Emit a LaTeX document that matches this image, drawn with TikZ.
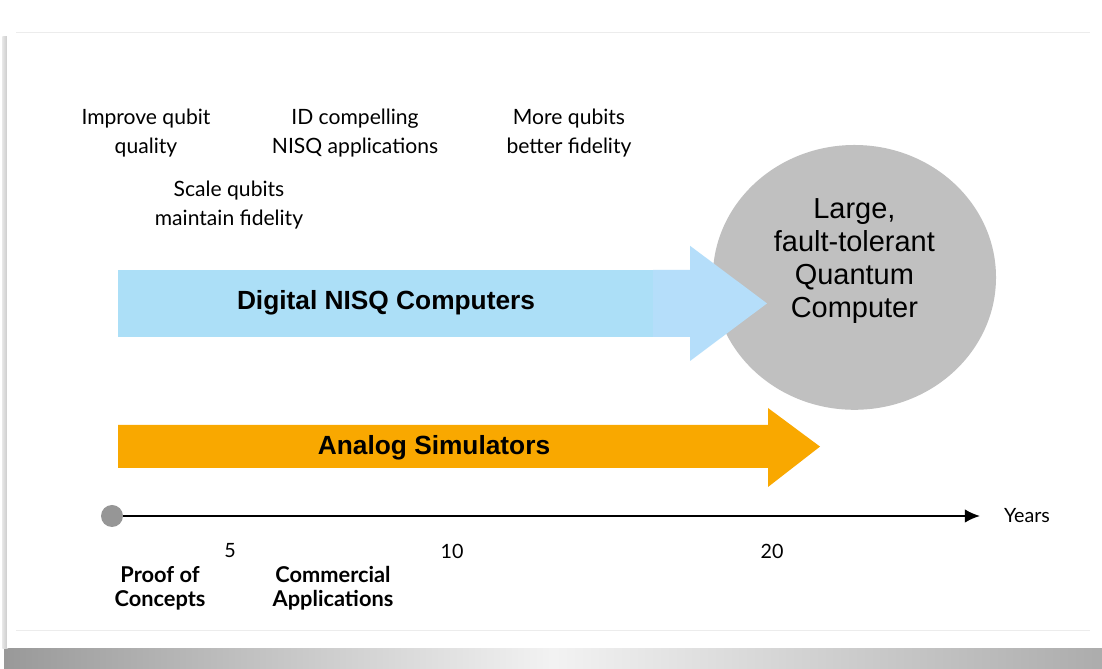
\documentclass[tikz,border=0pt]{standalone}
\usepackage{fontspec}
\setmainfont{Lato}
\newfontfamily\helv{Liberation Sans}
\usetikzlibrary{shapes.geometric,arrows.meta}
\definecolor{nisqblue}{RGB}{172,223,247}
\definecolor{nisqbluehead}{RGB}{181,222,250}
\definecolor{analogorange}{RGB}{249,168,0}
\definecolor{qcgray}{RGB}{192,192,192}
\definecolor{dotgray}{RGB}{150,150,150}
\tikzset{goal/.style={
  align=center,
  font=\fontsize{15}{20.5}\selectfont
  },
  band label/.style={font=\helv\bfseries\fontsize{18.7}{22}\selectfont},
  milestone/.style={align=center,font=\bfseries\fontsize{15.5}{17}\selectfont},
  year tick/.style={font=\fontsize{14}{17}\selectfont},
  my axis/.style={
  black,
  line width=1.4pt,
  -{Latex[length=3.8mm,width=3.4mm]}
  }
}

\begin{document}
\begin{tikzpicture}
    \useasboundingbox (0,0) rectangle (27.55,16.725);
    % slide card and its shadow
    \shade[left color=gray!80,right color=gray!65,middle color=gray!10] (0.1,0) rectangle (27.55,0.55);
    \shade[left color=gray!20,right color=gray!45] (0.06,0.5) rectangle (0.2,15.8);
    \fill[white] (0.175,0.525) rectangle (27.55,16.475);
    \draw[gray!15,line width=0.6pt] (0.4,15.925) -- (27.25,15.925);
    \draw[gray!15,line width=0.6pt] (0.4,0.975) -- (27.25,0.975);

    \foreach \x/\y/\t [count=\n] in {3.65/13.4/{Improve qubit\\quality},5.725/11.6/{Scale qubits\\maintain fidelity},8.875/13.4/{ID compelling\\NISQ applications},14.225/13.4/{More qubits\\better fidelity}}
        \node[goal] (G\n) at (\x,\y) {\t};

    \node[ellipse,fill=qcgray,minimum width=7.08cm,minimum height=6.62cm,inner sep=0pt] (QC) at (21.36,9.79) {};
    \node[align=center,font=\helv\fontsize{20.6}{23.5}\selectfont] (QCL) at (21.36,10.2) {Large,\\fault-tolerant\\Quantum\\Computer};

    \fill[nisqblue] (2.95,8.3) rectangle (16.325,9.975);
    \fill[nisqbluehead] (16.325,8.3) -- (17.25,8.3) -- (17.25,7.7) -- (19.175,9.14) -- (17.25,10.58) -- (17.25,9.975) -- (16.325,9.975) -- cycle;
    \node[band label] (D) at (9.65,9.15) {Digital NISQ Computers};

    \fill[analogorange] (2.95,5.025) -- (19.2,5.025) -- (19.2,4.55) -- (20.5,5.56) -- (19.2,6.525) -- (19.2,6.1) -- (2.95,6.1) -- cycle;
    \node[band label] (A) at (10.85,5.525) {Analog Simulators};

    \node[circle,fill=dotgray,minimum size=0.55cm,inner sep=0pt] (T0) at (2.8,3.825) {};
    \coordinate (T1) at (24.5,3.825);
    \draw[my axis] (T0) -- (T1);
    \node[year tick] (Y) at (25.675,3.825) {Years};

    \foreach \x/\t in {5.75/5,11.3/10,19.3/20}
        \node[year tick] (Y\t) at (\x,2.95) {\t};

    \node[milestone] (P) at (4.0,2.025) {Proof of\\Concepts};
    \node[milestone] (C) at (8.325,2.025) {Commercial\\Applications};
\end{tikzpicture}
\end{document}
